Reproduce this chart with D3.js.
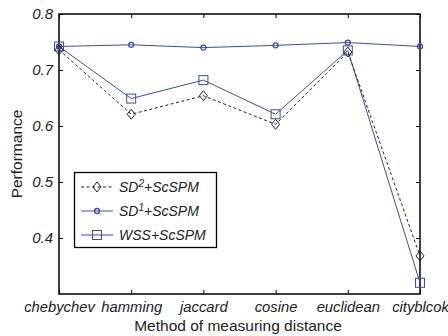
<!DOCTYPE html>
<html>
<head>
<meta charset="utf-8">
<script src="https://cdn.jsdelivr.net/npm/d3@7"></script>
<style>
  body { margin: 0; background: #fff; }
  text { font-family: "Liberation Sans", Arial, sans-serif; }
</style>
</head>
<body>
<div id="chart"></div>
<script>
const categories = ['chebychev', 'hamming', 'jaccard', 'cosine', 'euclidean', 'cityblcok'];
const sd2Values = [0.736, 0.621, 0.654, 0.603, 0.732, 0.368];
const sd1Values = [0.742, 0.745, 0.740, 0.744, 0.749, 0.742];
const wssValues = [0.742, 0.649, 0.682, 0.621, 0.735, 0.320];
const yTicks = [0.4, 0.5, 0.6, 0.7, 0.8];

const width = 448, height = 336;
const margin = { top: 14, right: 28, bottom: 42, left: 59 };
const blue = '#3a4cab';

const svg = d3.select('#chart').append('svg')
  .attr('width', width).attr('height', height);

const x = d3.scalePoint()
  .domain(categories)
  .range([margin.left, width - margin.right]);

const y = d3.scaleLinear()
  .domain([0.3, 0.8])
  .range([height - margin.bottom, margin.top]);

const x0 = margin.left, x1 = width - margin.right;
const y0 = height - margin.bottom, y1 = margin.top;

// axes (MATLAB style: inward ticks, boxed)
const yAxis = d3.axisLeft(y).tickValues(yTicks).tickSize(-4).tickPadding(6)
  .tickFormat(d3.format('.1f'));
const gy = svg.append('g').attr('transform', `translate(${x0},0)`).call(yAxis);
const gyr = svg.append('g').attr('transform', `translate(${x1},0)`)
  .call(d3.axisRight(y).tickValues(yTicks).tickSize(-4).tickFormat(''));
const xAxis = d3.axisBottom(x).tickSize(-4).tickPadding(7);
const gx = svg.append('g').attr('transform', `translate(0,${y0})`).call(xAxis);
const gxt = svg.append('g').attr('transform', `translate(0,${y1})`)
  .call(d3.axisTop(x).tickSize(-4).tickFormat(''));

[gy, gyr, gx, gxt].forEach(g => {
  g.select('.domain').remove();
  g.selectAll('line').attr('stroke', '#000');
});
gy.selectAll('text').attr('font-size', 15).attr('font-style', 'italic').attr('fill', '#222');
gx.selectAll('text').attr('font-size', 14.8).attr('font-style', 'italic').attr('fill', '#222');

svg.append('rect')
  .attr('x', x0).attr('y', y1)
  .attr('width', x1 - x0).attr('height', y0 - y1)
  .attr('fill', 'none').attr('stroke', '#000').attr('stroke-width', 1.5);

// axis titles
svg.append('text')
  .attr('x', 238).attr('y', 331)
  .attr('text-anchor', 'middle').attr('font-size', 15.5).attr('fill', '#222')
  .text('Method of measuring distance');
svg.append('text')
  .attr('transform', `translate(22,154) rotate(-90)`)
  .attr('text-anchor', 'middle').attr('font-size', 15.5).attr('fill', '#222')
  .text('Performance');

const line = d3.line()
  .x((d, i) => x(categories[i]))
  .y(d => y(d));

const series = [
  { key: 'sd2', values: sd2Values, color: '#222', dash: '3,2.5', marker: 'diamond' },
  { key: 'sd1', values: sd1Values, color: blue, dash: null, marker: 'hex' },
  { key: 'wss', values: wssValues, color: blue, dash: null, marker: 'square' }
];

function drawMarker(g, type, cx, cy, color) {
  if (type === 'diamond') {
    g.append('path')
      .attr('d', `M${cx},${cy - 5}L${cx + 4},${cy}L${cx},${cy + 5}L${cx - 4},${cy}Z`)
      .attr('fill', 'none').attr('stroke', color).attr('stroke-width', 1);
  } else if (type === 'square') {
    g.append('rect')
      .attr('x', cx - 4.5).attr('y', cy - 4.5).attr('width', 9).attr('height', 9)
      .attr('fill', 'none').attr('stroke', color).attr('stroke-width', 1);
  } else {
    g.append('circle')
      .attr('cx', cx).attr('cy', cy).attr('r', 2.5)
      .attr('fill', 'none').attr('stroke', color).attr('stroke-width', 1.3);
  }
}

// draw in reverse so SD2 sits on top, like the original
[...series].reverse().forEach(s => {
  const g = svg.append('g');
  g.append('path')
    .datum(s.values)
    .attr('d', line)
    .attr('fill', 'none')
    .attr('stroke', s.color)
    .attr('stroke-width', 1)
    .attr('stroke-dasharray', s.dash);
  s.values.forEach((v, i) => drawMarker(g, s.marker, x(categories[i]), y(v), s.color));
});

// legend
const lg = svg.append('g');
lg.append('rect')
  .attr('x', 74.5).attr('y', 172.5).attr('width', 142).attr('height', 75)
  .attr('fill', '#fff').attr('stroke', '#000').attr('stroke-width', 1.3);
const labels = [['SD', '2', '+ScSPM'], ['SD', '1', '+ScSPM'], ['WSS', '', '+ScSPM']];
series.forEach((s, i) => {
  const ly = 187 + i * 24;
  lg.append('line')
    .attr('x1', 81).attr('x2', 113).attr('y1', ly).attr('y2', ly)
    .attr('stroke', s.color).attr('stroke-width', 1)
    .attr('stroke-dasharray', s.dash);
  drawMarker(lg, s.marker, 97, ly, s.color);
  const t = lg.append('text')
    .attr('x', 119).attr('y', ly + 5)
    .attr('font-size', 14).attr('font-style', 'italic').attr('fill', '#222');
  t.append('tspan').text(labels[i][0]);
  if (labels[i][1]) {
    t.append('tspan').attr('dy', -5).attr('font-size', 10).text(labels[i][1]);
    t.append('tspan').attr('dy', 5).text(labels[i][2]);
  } else {
    t.append('tspan').text(labels[i][2]);
  }
});
</script>
</body>
</html>
